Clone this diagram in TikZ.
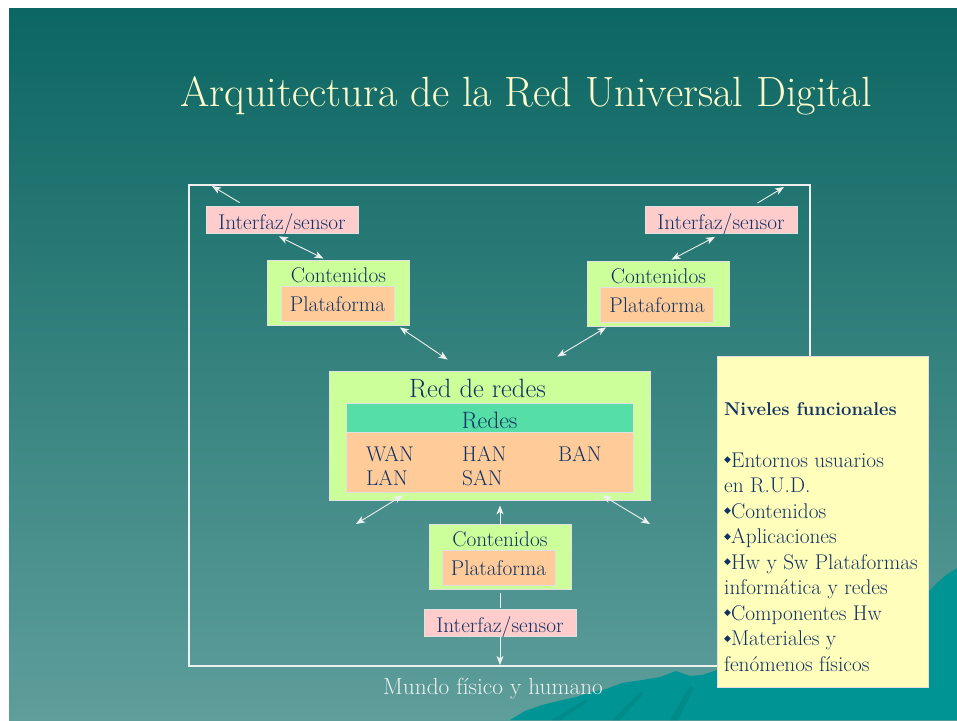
\documentclass[tikz,border=0pt]{standalone}
\usepackage{fontspec}
\newfontfamily\symfont{DejaVu Sans}
\usetikzlibrary{arrows.meta,calc}

\definecolor{bgtop}{RGB}{12,102,98}
\definecolor{bgbot}{RGB}{94,158,155}
\definecolor{hill}{RGB}{0,148,148}
\definecolor{hilldark}{RGB}{0,138,138}
\definecolor{ink}{RGB}{16,50,100}
\definecolor{titlec}{RGB}{255,255,204}
\definecolor{pinkc}{RGB}{255,204,204}
\definecolor{limec}{RGB}{204,255,153}
\definecolor{peachc}{RGB}{255,204,153}
\definecolor{mintc}{RGB}{85,222,166}
\definecolor{notec}{RGB}{255,255,187}
\definecolor{edgec}{RGB}{225,225,225}
\definecolor{framec}{RGB}{240,240,240}

\newcommand\tamNormal{\fontsize{21.3}{25}\selectfont}
\newcommand\tamNotaTit{\fontsize{18.5}{22}\selectfont}
\newcommand\tamRedes{\fontsize{23.7}{28}\selectfont}
\newcommand\tamRed{\fontsize{26.5}{30}\selectfont}
\newcommand\tamMundo{\fontsize{23.3}{28}\selectfont}
\newcommand\tamTitulo{\fontsize{42.3}{50}\selectfont}
\newcommand\rombo{\raisebox{4.5pt}{\symfont\fontsize{9}{9}\selectfont ◆}}

\begin{document}
\begin{tikzpicture}[x=1pt, y=-1pt,
	caja/.style = {draw=edgec, line width=0.8pt, inner sep=0pt, text=ink, font=\tamNormal},
	interfaz/.style = {caja, fill=pinkc, minimum width=152pt, text height=23pt, text depth=4pt},
	contenidos/.style = {caja, fill=limec, minimum width=142pt, text height=22pt, text depth=43pt},
	plataforma/.style = {caja, fill=peachc, minimum width=113pt, text height=25pt, text depth=10pt},
	texto/.style = {text=ink, font=\tamNormal, inner sep=0pt, anchor=base west},
	flecha/.style = {draw=framec, line width=0.9pt, -{Stealth[length=9pt,width=7pt,inset=2.5pt]}},
	doble/.style = {flecha, {Stealth[length=9pt,width=7pt,inset=2.5pt]}-{Stealth[length=9pt,width=7pt,inset=2.5pt]}}]
	\useasboundingbox (0,0) rectangle (957,720);
	% fondo
	\fill[white] (0,0) rectangle (957,720);
	\shade[top color=bgtop, bottom color=bgbot] (9,8) rectangle (957,720);
	\fill[hill] (510,720) -- (525,711) -- (542,705) -- (558,701) -- (576,697) -- (592,692) -- (606,689) -- (622,683) -- (642,680) -- (660,677) -- (676,671) -- (690,676) -- (702,675) -- (717,670) -- (928,592) -- (936,584) -- (946,575) -- (957,568) -- (957,720) -- cycle;
	\fill[hilldark] (552,720) -- (585,700) -- (589,701) -- (560,720) -- cycle;
	\fill[hilldark] (612,720) -- (640,692) -- (644,693) -- (620,720) -- cycle;
	\fill[hilldark] (670,720) -- (690,686) -- (694,688) -- (678,720) -- cycle;
	\draw[framec, line width=2.5pt] (189,185) rectangle (810,666);
	\node[text=titlec, font=\tamTitulo, anchor=base] (titulo) at (526,106) {Arquitectura de la Red Universal Digital};
	% arriba izquierda
	\node[interfaz] (ifTL) at (282,219.5) {Interfaz/sensor};
	\node[contenidos] (cTL) at (338.5,292.5) {Contenidos};
	\node[plataforma] (pTL) at (337.5,303.5) {Plataforma};
	% arriba derecha
	\node[interfaz] (ifTR) at (721,220) {Interfaz/sensor};
	\node[contenidos] (cTR) at (658.5,293.5) {Contenidos};
	\node[plataforma] (pTR) at (657,304.5) {Plataforma};
	% centro
	\node[caja, fill=limec, minimum width=321pt, font=\tamRed, text height=26pt, text depth=103pt] (red) at (489.5,435.5) {Red de redes\hspace*{24pt}};
	\node[caja, fill=mintc, minimum width=287pt, font=\tamRedes, text height=25pt, text depth=4pt] (redes) at (489.5,417.5) {Redes};
	\node[caja, fill=peachc, minimum width=287pt, minimum height=60pt] (tipos) at (489.5,462) {};
	\node[texto] (wan) at (366,461) {WAN};
	\node[texto] (han) at (462,461) {HAN};
	\node[texto] (ban) at (558,461) {BAN};
	\node[texto] (lan) at (366,485.5) {LAN};
	\node[texto] (san) at (462,485.5) {SAN};
	% abajo
	\node[contenidos] (cB) at (500,557) {Contenidos};
	\node[plataforma] (pB) at (498.5,567.5) {Plataforma};
	\node[interfaz] (ifB) at (500,623) {Interfaz/sensor};
	\node[text=framec, font=\tamMundo, anchor=base] (mundo) at (493,694) {Mundo físico y humano};
	% extremos libres
	\coordinate (tl) at (212,186);
	\coordinate (tr) at (784,187);
	\coordinate (bl) at (356,524);
	\coordinate (br) at (650,524);
	\coordinate (suelo) at (500,665);
	% flechas
	\draw[flecha] ($(ifTL.north west)+(34,-3)$) -- (tl);
	\draw[doble] ($(ifTL.south)+(-3,3)$) -- ($(cTL.north)+(-15,-1)$);
	\draw[doble] ($(cTL.south east)+(-10,2)$) -- ($(red.north west)+(119,-11)$);
	\draw[flecha] ($(ifTR.north east)+(-40,-3)$) -- (tr);
	\draw[doble] ($(ifTR.south)+(-6,3)$) -- ($(cTR.north)+(13,-1)$);
	\draw[doble] ($(cTR.south west)+(19,1)$) -- ($(red.north east)+(-93,-14)$);
	\draw[doble] ($(red.south west)+(74,-5)$) -- (bl);
	\draw[doble] ($(red.south east)+(-48,-5)$) -- (br);
	\draw[flecha, shorten >=5pt] (cB.north) -- (cB.north |- red.south);
	\draw[framec, line width=0.9pt, shorten <=3pt, shorten >=1pt] (cB.south) -- (ifB.north);
	\draw[flecha] (ifB.south) -- (suelo);
	% niveles
	\node[draw=edgec, fill=notec, minimum width=211pt, minimum height=331pt, inner sep=0pt] (niveles) at (822.5,521.5) {};
	\node[texto, font=\tamNotaTit\bfseries] (nivtit) at (724,415) {Niveles funcionales};
	\foreach \linea [count=\i] in {\rombo Entornos usuarios, en R.U.D., \rombo Contenidos, \rombo Aplicaciones, \rombo Hw y Sw Plataformas, informática y redes, \rombo Componentes Hw, \rombo Materiales y, fenómenos físicos}
		\node[texto] (niv\i) at (724,{467+25.5*(\i-1)}) {\linea};
\end{tikzpicture}
\end{document}
